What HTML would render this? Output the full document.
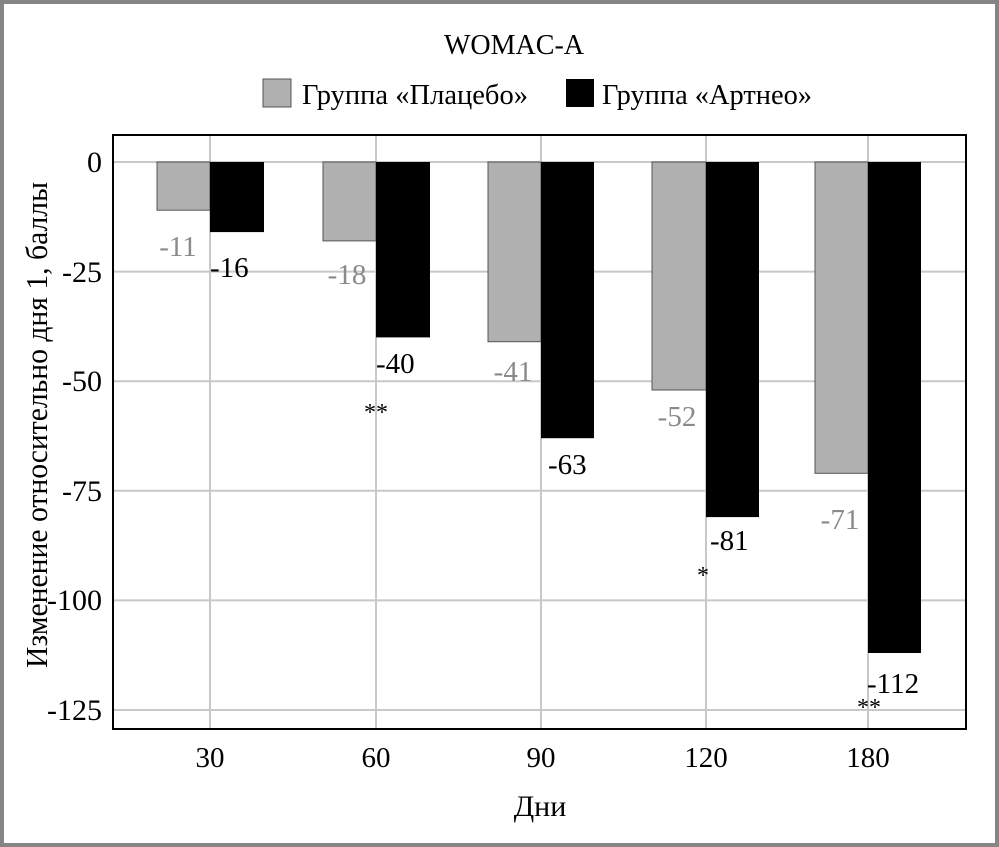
<!DOCTYPE html>
<html><head><meta charset="utf-8"><style>
html,body{margin:0;padding:0;background:#fff}
svg{display:block}
text{font-family:"Liberation Serif",serif}
</style></head><body>
<svg width="999" height="847" xmlns="http://www.w3.org/2000/svg">
<rect x="2" y="2" width="995" height="843" fill="#fff" stroke="#858585" stroke-width="4"/>
<g stroke="#c8c8c8" stroke-width="2">
<line x1="113" y1="162" x2="966" y2="162"/>
<line x1="113" y1="271.6" x2="966" y2="271.6"/>
<line x1="113" y1="381.2" x2="966" y2="381.2"/>
<line x1="113" y1="490.8" x2="966" y2="490.8"/>
<line x1="113" y1="600.4" x2="966" y2="600.4"/>
<line x1="113" y1="710" x2="966" y2="710"/>
<line x1="210" y1="135" x2="210" y2="729"/>
<line x1="376" y1="135" x2="376" y2="729"/>
<line x1="541" y1="135" x2="541" y2="729"/>
<line x1="706" y1="135" x2="706" y2="729"/>
<line x1="868" y1="135" x2="868" y2="729"/>
</g>
<g fill="#b0b0b1" stroke="#555" stroke-width="1">
<rect x="157" y="162" width="53" height="48.2"/>
<rect x="323" y="162" width="53" height="78.9"/>
<rect x="488" y="162" width="53" height="179.7"/>
<rect x="652" y="162" width="54" height="228"/>
<rect x="815" y="162" width="53" height="311.3"/>
</g>
<g fill="#000">
<rect x="210" y="162" width="54" height="70.1"/>
<rect x="376" y="162" width="54" height="175.4"/>
<rect x="541" y="162" width="53" height="276.2"/>
<rect x="706" y="162" width="53" height="355.1"/>
<rect x="868" y="162" width="53" height="491"/>
</g>
<rect x="113" y="135" width="853" height="594" fill="none" stroke="#000" stroke-width="2"/>
<g font-size="30" fill="#000" text-anchor="end">
<text x="102" y="172">0</text>
<text x="102" y="282">-25</text>
<text x="102" y="391">-50</text>
<text x="102" y="501">-75</text>
<text x="102" y="610">-100</text>
<text x="102" y="720">-125</text>
</g>
<g font-size="29" fill="#000" text-anchor="middle">
<text x="210" y="767">30</text>
<text x="376" y="767">60</text>
<text x="541" y="767">90</text>
<text x="706" y="767">120</text>
<text x="868" y="767">180</text>
<text x="540" y="816" font-size="30">Дни</text>
<text x="514" y="54" font-size="28">WOMAC-A</text>
</g>
<text transform="translate(47,425) rotate(-90)" font-size="31" text-anchor="middle" textLength="486" lengthAdjust="spacingAndGlyphs">Изменение относительно дня 1, баллы</text>
<rect x="263" y="79" width="28" height="28" fill="#b0b0b1" stroke="#555" stroke-width="1"/>
<text x="302" y="104" font-size="29" textLength="226" lengthAdjust="spacingAndGlyphs">Группа «Плацебо»</text>
<rect x="566" y="79" width="28" height="28" fill="#000"/>
<text x="602" y="104" font-size="29" textLength="210" lengthAdjust="spacingAndGlyphs">Группа «Артнео»</text>
<g font-size="29" fill="#8a8a8a" text-anchor="middle">
<text x="178" y="256">-11</text>
<text x="347" y="284">-18</text>
<text x="513" y="381">-41</text>
<text x="677" y="426">-52</text>
<text x="840" y="529">-71</text>
</g>
<g font-size="29" fill="#000">
<text x="210" y="277">-16</text>
<text x="376" y="373">-40</text>
<text x="548" y="474">-63</text>
<text x="710" y="550">-81</text>
<text x="867" y="693">-112</text>
</g>
<g font-size="24" fill="#000" text-anchor="middle">
<text x="376" y="420">**</text>
<text x="703" y="583">*</text>
<text x="869" y="715">**</text>
</g>
</svg>
</body></html>
